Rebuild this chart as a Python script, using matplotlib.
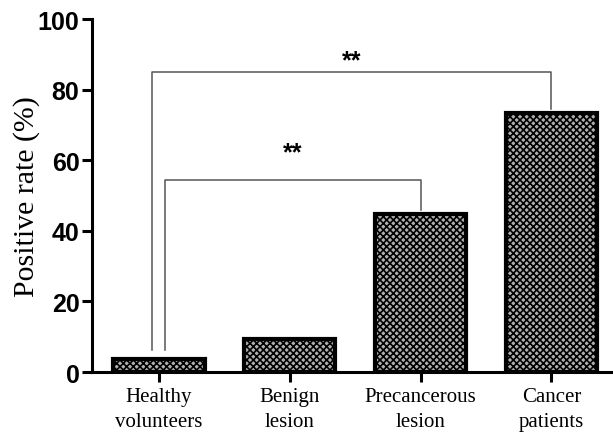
import matplotlib
matplotlib.use("Agg")
import matplotlib.pyplot as plt

# bar data (positive rate, %)
groups = ["Healthy\nvolunteers", "Benign\nlesion", "Precancerous\nlesion", "Cancer\npatients"]
rates = [3.8, 9.3, 44.8, 73.5]
yticks = [0, 20, 40, 60, 80, 100]

# significance brackets: (left x, right x, height, label, label y)
brackets = [(0.05, 2.0, 54.5, "**", 62.2), (-0.05, 3.0, 85, "**", 88.2)]

plt.rcParams['hatch.linewidth'] = 1.2

fig = plt.figure(figsize=(6.13, 4.35), dpi=100)
ax = fig.add_axes([0.150, 0.1425, 0.85, 0.8115])

x = range(len(groups))
ax.bar(x, rates, width=0.7, color="#b0b0b0", edgecolor="black", linewidth=3,
       hatch="xxxxx", zorder=3)

# brackets drawn from bar tops up to the bracket height
for (a, b, h, lab, ly) in brackets:
    ia = int(round(a))
    ib = int(round(b))
    ax.plot([a, a, b, b], [rates[ia] + 2.5, h, h, rates[ib] + 1.0],
            color="#555555", linewidth=1.1, zorder=2)
    ax.text((a + b) / 2, ly, lab, ha="center", va="center",
            fontsize=18, fontweight="bold", family="Liberation Sans")

ax.set_xlim(-0.51, 3.47)
ax.set_ylim(0, 100)
ax.set_yticks(yticks)
ax.set_xticks(list(x))
ax.set_xticklabels(groups, family="Liberation Serif", fontsize=15, linespacing=1.4)
for lab in ax.get_yticklabels():
    lab.set_family("Liberation Sans")
    lab.set_fontweight("bold")
    lab.set_fontsize(18)

ax.set_ylabel("Positive rate (%)", family="Liberation Serif", fontsize=21.5, labelpad=-2)

ax.spines['top'].set_visible(False)
ax.spines['right'].set_visible(False)
ax.spines['left'].set_linewidth(2.2)
ax.spines['bottom'].set_linewidth(2.2)
ax.tick_params(axis='y', direction='out', length=7, width=2.2, pad=2)
ax.tick_params(axis='x', direction='out', length=7, width=2.2, pad=4)

fig.savefig("out.png", dpi=100)
